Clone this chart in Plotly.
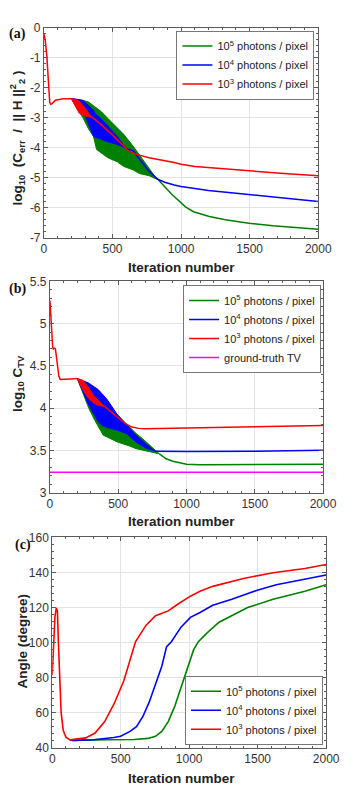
import plotly.graph_objects as go

# ---------------- colours ----------------
GREEN, BLUE, RED, MAGENTA = "#008000", "#0000ff", "#ff0000", "#ff00ff"
names = ["10<sup>5</sup> photons / pixel", "10<sup>4</sup> photons / pixel", "10<sup>3</sup> photons / pixel"]

# ---------------- panel (a): log10(Cerr/||H||^2) ----------------
a_common_x = [0, 2, 9, 21, 32, 42, 49, 60, 83, 141, 200]
a_common_y = [-0.22, -0.27, -0.40, -0.95, -1.71, -2.48, -2.55, -2.53, -2.42, -2.37, -2.37]

a_green_band_x = [200, 284, 326, 361, 384, 419, 465, 535, 581, 651, 697, 766, 813, 835]
a_green_band_hi = [-2.37, -2.42, -2.48, -2.60, -2.68, -2.80, -3.02, -3.32, -3.55, -3.95, -4.25, -4.71, -4.98, -5.07]
a_green_band_lo = [-2.37, -3.00, -3.38, -3.62, -4.06, -4.18, -4.33, -4.47, -4.62, -4.74, -4.86, -4.93, -5.02, -5.07]
a_green_tail_x = [835, 928, 1032, 1090, 1206, 1322, 1495, 1669, 2000]
a_green_tail_y = [-5.07, -5.53, -5.97, -6.13, -6.29, -6.40, -6.51, -6.60, -6.71]

a_blue_band_x = [200, 234, 280, 303, 361, 373, 419, 465, 535, 581, 604, 650]
a_blue_band_hi = [-2.37, -2.38, -2.42, -2.50, -2.75, -2.86, -3.05, -3.29, -3.62, -3.92, -4.02, -4.10]
a_blue_band_lo = [-2.37, -2.42, -2.75, -2.97, -3.62, -3.66, -3.73, -3.80, -3.89, -3.98, -4.06, -4.10]
a_blue_tail_x = [650, 700, 760, 830, 880, 950, 1000, 1200, 1500, 1750, 2000]
a_blue_tail_y = [-4.10, -4.40, -4.75, -5.05, -5.15, -5.24, -5.29, -5.42, -5.55, -5.67, -5.79]

a_red_band_x = [200, 230, 257, 290, 326, 350]
a_red_band_hi = [-2.37, -2.39, -2.45, -2.62, -2.85, -2.98]
a_red_band_lo = [-2.37, -2.62, -2.85, -2.93, -2.97, -2.98]
a_red_tail_x = [350, 420, 535, 616, 674, 766, 950, 1000, 1100, 1200, 1500, 1750, 2000]
a_red_tail_y = [-2.98, -3.24, -3.73, -4.10, -4.22, -4.33, -4.49, -4.55, -4.62, -4.66, -4.77, -4.86, -4.93]

a_ytickvals = [-7, -6, -5, -4, -3, -2, -1, 0]
a_yticktext = ["-7", "-6", "-5", "-4", "-3", "-2", "-1", "0"]

# ---------------- panel (b): log10 C_TV ----------------
b_common_x = [0, 5, 12, 20, 25, 35, 40, 50, 65, 75, 100, 150, 200]
b_common_y = [5.27, 5.10, 4.90, 4.72, 4.70, 4.71, 4.70, 4.55, 4.38, 4.34, 4.34, 4.345, 4.35]

b_green_band_x = [200, 284, 330, 376, 390, 493, 585, 631, 677, 770, 800]
b_green_band_hi = [4.35, 4.27, 4.20, 4.13, 4.11, 3.92, 3.77, 3.70, 3.64, 3.51, 3.46]
b_green_band_lo = [4.35, 4.00, 3.85, 3.72, 3.68, 3.60, 3.55, 3.52, 3.50, 3.47, 3.46]
b_green_tail_x = [800, 850, 900, 950, 1000, 1100, 1500, 2000]
b_green_tail_y = [3.46, 3.40, 3.37, 3.35, 3.335, 3.33, 3.33, 3.335]

b_blue_band_x = [200, 280, 353, 376, 420, 490, 560, 630, 700, 770]
b_blue_band_hi = [4.35, 4.30, 4.22, 4.18, 4.10, 3.93, 3.80, 3.68, 3.58, 3.49]
b_blue_band_lo = [4.35, 4.05, 3.84, 3.80, 3.77, 3.74, 3.70, 3.60, 3.53, 3.49]
b_blue_tail_x = [770, 1000, 1500, 2000]
b_blue_tail_y = [3.49, 3.485, 3.49, 3.50]

b_red_band_x = [200, 240, 280, 320, 360, 400]
b_red_band_hi = [4.35, 4.33, 4.25, 4.15, 4.08, 4.02]
b_red_band_lo = [4.35, 4.22, 4.12, 4.06, 4.03, 4.02]
b_red_tail_x = [400, 450, 500, 550, 600, 650, 700, 1000, 1500, 2000]
b_red_tail_y = [4.02, 3.95, 3.88, 3.82, 3.775, 3.76, 3.755, 3.765, 3.78, 3.795]

b_truth_x = [0, 2000]
b_truth_y = [3.24, 3.24]

# ---------------- panel (c): angle ----------------
c_red_x = [0, 10, 20, 30, 38, 45, 55, 65, 80, 100, 130, 180, 244, 313, 383, 452, 522, 608,
           684, 754, 847, 916, 1009, 1079, 1172, 1404, 1613, 1845, 2000]
c_red_y = [81.5, 100, 115, 119.8, 118, 100, 75, 60, 50, 46, 44.5, 44.8, 45.6, 48.4, 54.9, 65.1,
           78.1, 100.5, 109.8, 115.3, 118.1, 121.9, 126.5, 129.3, 132.1, 136.7, 139.9, 142.3, 144.6]
c_blue_x = [130, 150, 300, 400, 450, 499, 568, 615, 661, 708, 754, 800, 835, 870, 940, 1009,
            1079, 1172, 1311, 1497, 1636, 1845, 2000]
c_blue_y = [44.5, 44.2, 44.5, 45.2, 45.8, 46.5, 49.3, 52, 57.7, 66, 76.3, 86.5, 97.7, 100.5,
            108.8, 114.4, 117.2, 121.3, 124.7, 129.9, 133, 136.2, 138.6]
c_green_x = [130, 150, 400, 600, 700, 754, 800, 847, 893, 940, 986, 1032, 1067, 1125, 1218,
             1311, 1427, 1613, 1845, 2000]
c_green_y = [44.5, 44.2, 44.5, 44.7, 45.3, 46.5, 49.3, 54.9, 63.3, 74.4, 85.6, 95.8, 100.5,
             105.1, 111.6, 115.3, 120, 124.7, 129.3, 133]

x_ticks = [0, 500, 1000, 1500, 2000]

# ---------------- figure ----------------
W, H = 357, 794
fig = go.Figure()


def band(xa, ya, bx, hi, lo, color):
    fig.add_trace(go.Scatter(x=bx + bx[::-1], y=hi + lo[::-1], xaxis=xa, yaxis=ya,
                             mode="lines", fill="toself", fillcolor=color,
                             line=dict(color=color, width=1), showlegend=False,
                             hoverinfo="skip"))


def line(xa, ya, x, y, color, name=None, legend=None, width=1.5):
    fig.add_trace(go.Scatter(x=x, y=y, xaxis=xa, yaxis=ya, mode="lines",
                             line=dict(color=color, width=width),
                             name=name or "", showlegend=name is not None,
                             legend=legend))


# panel a
band("x", "y", a_green_band_x, a_green_band_hi, a_green_band_lo, GREEN)
line("x", "y", a_green_tail_x, a_green_tail_y, GREEN, names[0], "legend")
band("x", "y", a_blue_band_x, a_blue_band_hi, a_blue_band_lo, BLUE)
line("x", "y", a_blue_tail_x, a_blue_tail_y, BLUE, names[1], "legend")
band("x", "y", a_red_band_x, a_red_band_hi, a_red_band_lo, RED)
line("x", "y", a_red_tail_x, a_red_tail_y, RED, names[2], "legend")
line("x", "y", a_common_x, a_common_y, RED)

# panel b
band("x2", "y2", b_green_band_x, b_green_band_hi, b_green_band_lo, GREEN)
line("x2", "y2", b_green_tail_x, b_green_tail_y, GREEN, names[0], "legend2")
band("x2", "y2", b_blue_band_x, b_blue_band_hi, b_blue_band_lo, BLUE)
line("x2", "y2", b_blue_tail_x, b_blue_tail_y, BLUE, names[1], "legend2")
band("x2", "y2", b_red_band_x, b_red_band_hi, b_red_band_lo, RED)
line("x2", "y2", b_red_tail_x, b_red_tail_y, RED, names[2], "legend2")
line("x2", "y2", b_common_x, b_common_y, RED)
line("x2", "y2", b_truth_x, b_truth_y, MAGENTA, "ground-truth TV", "legend2")

# panel c
line("x3", "y3", c_green_x, c_green_y, GREEN, names[0], "legend3", 1.6)
line("x3", "y3", c_blue_x, c_blue_y, BLUE, names[1], "legend3", 1.6)
line("x3", "y3", c_red_x, c_red_y, RED, names[2], "legend3", 1.6)

FONT = "Liberation Sans, Arial, sans-serif"
AX_COL = "#5a5a5a"
GRID = "#e3e3e3"
TICKFONT = dict(family=FONT, size=12, color="#333333")


def xax(domain, anchor):
    return dict(domain=domain, anchor=anchor, range=[0, 2000], tickvals=x_ticks,
                ticks="inside", ticklen=4, tickcolor=AX_COL, showline=True, linecolor=AX_COL,
                linewidth=1, mirror="ticks", showgrid=True, gridcolor=GRID, zeroline=False,
                tickfont=TICKFONT,
                minor=dict(tickmode="linear", tick0=0, dtick=100, ticks="inside", ticklen=2,
                           tickcolor=AX_COL, showgrid=False))


def yax(domain, anchor, rng, tickvals, ticktext, minor_dtick):
    return dict(domain=domain, anchor=anchor, range=rng, tickvals=tickvals, ticktext=ticktext,
                ticks="inside", ticklen=4, tickcolor=AX_COL, showline=True, linecolor=AX_COL,
                linewidth=1, mirror="ticks", showgrid=True, gridcolor=GRID, zeroline=False,
                tickfont=TICKFONT,
                minor=dict(tickmode="linear", tick0=rng[0], dtick=minor_dtick, ticks="inside",
                           ticklen=2, tickcolor=AX_COL, showgrid=False))


def px(v):
    return v / W


def py(v):
    return 1 - v / H


b_ytick = [3, 3.5, 4, 4.5, 5, 5.5]
c_ytick = [40, 60, 80, 100, 120, 140, 160]

layout = dict(
    width=W, height=H, margin=dict(l=0, r=0, t=0, b=0),
    paper_bgcolor="white", plot_bgcolor="white",
    xaxis=xax([px(43), px(331)], "y"),
    yaxis=yax([py(235), py(21)], "x", [-7, 0], a_ytickvals, a_yticktext, 0.2),
    xaxis2=xax([px(49.3), px(336)], "y2"),
    yaxis2=yax([py(494.3), py(279.3)], "x2", [3, 5.5], b_ytick, [str(v) for v in b_ytick], 0.1),
    xaxis3=xax([px(51.7), px(339.3)], "y3"),
    yaxis3=yax([py(754), py(540)], "x3", [40, 160], c_ytick, [str(v) for v in c_ytick], 4),
)

leg_common = dict(bgcolor="white", bordercolor="#777777", borderwidth=1,
                  font=dict(family=FONT, size=11, color="#222222"),
                  tracegroupgap=0, itemwidth=30)
layout["legend"] = dict(leg_common, x=px(327), y=py(24), xanchor="right", yanchor="top")
layout["legend2"] = dict(leg_common, x=px(334), y=py(283), xanchor="right", yanchor="top")
layout["legend3"] = dict(leg_common, x=px(336), y=py(751), xanchor="right", yanchor="bottom")

TITLEFONT = dict(family=FONT, size=13.5, color="#222222")
ann = []
for yc in [265.5, 524, 785]:
    ann.append(dict(text="<b>Iteration number</b>", x=px(187), y=py(yc), xref="paper",
                    yref="paper", showarrow=False, font=TITLEFONT, xanchor="center",
                    yanchor="middle"))
ann.append(dict(text="<b>log<sub>10</sub>  (C<sub>err</sub>  /  || H ||<sup>2</sup><sub>2</sub> )</b>",
                x=px(14.5), y=py(133), xref="paper", yref="paper", showarrow=False,
                textangle=-90, font=TITLEFONT, xanchor="center", yanchor="middle"))
ann.append(dict(text="<b>log<sub>10</sub> C<sub>TV</sub></b>", x=px(15.5), y=py(383),
                xref="paper", yref="paper", showarrow=False, textangle=-90, font=TITLEFONT,
                xanchor="center", yanchor="middle"))
ann.append(dict(text="<b>Angle (degree)</b>", x=px(21), y=py(646), xref="paper", yref="paper",
                showarrow=False, textangle=-90, font=TITLEFONT, xanchor="center",
                yanchor="middle"))
PANELFONT = dict(family="Liberation Serif, Times New Roman, serif", size=14, color="#111111")
for lab, xc, yc in [("(a)", 15, 27), ("(b)", 15, 287), ("(c)", 21.5, 548)]:
    ann.append(dict(text="<b>%s</b>" % lab, x=px(xc), y=py(yc), xref="paper", yref="paper",
                    showarrow=False, font=PANELFONT, xanchor="center", yanchor="middle"))
layout["annotations"] = ann

fig.update_layout(**layout)
fig.write_html("out.html", config={"displayModeBar": False},
               post_script="document.body.style.margin='0';document.body.style.padding='0';"
                           "document.body.style.overflow='hidden';")
